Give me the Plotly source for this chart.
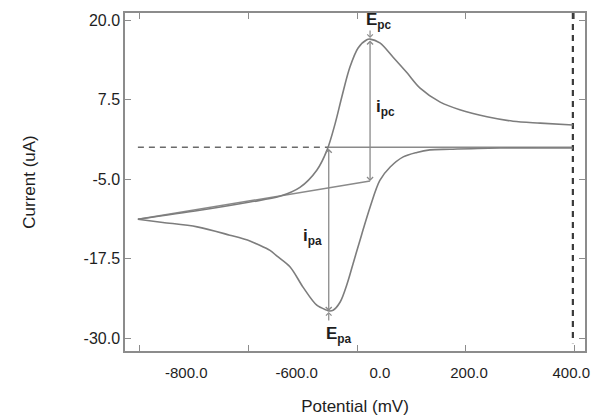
import plotly.graph_objects as go

# Cyclic voltammogram: potential (mV) vs current (uA)
# Cathodic sweep: from the +400 mV limit down to the -400 mV switching point
sweep_down_mv = [397, 337, 263, 171, 134, 110, 85, 61, 42, 24, 11, 5.5, -7, -18, -31,
                 -44, -52, -55, -74, -99, -123, -147, -160, -184, -197, -234, -294, -357, -403]
sweep_down_ua = [-0.1, -0.1, -0.1, -0.3, -0.4, -0.8, -1.5, -3.1, -5.2, -9.4, -13.0, -14.6, -18.2,
                 -21.4, -24.3, -25.6, -25.7, -25.6, -24.8, -22.0, -18.8, -17.1, -16.2, -15.2,
                 -14.7, -13.8, -12.5, -11.8, -11.3]
# Anodic return sweep: from -400 mV back up to +400 mV
sweep_up_mv = [-403, -289, -197, -142, -105, -74, -55, -40, -28, -13, 2, 18, 24, 42, 66, 92,
               116, 153, 189, 239, 287, 337, 397]
sweep_up_ua = [-11.3, -9.9, -8.6, -7.7, -6.3, -3.6, -0.4, 3.8, 7.9, 12.6, 15.6, 16.9, 17.0,
               16.4, 14.2, 11.7, 9.3, 7.1, 5.9, 4.8, 4.1, 3.8, 3.5]

# Peak positions (mV, uA)
epc = (24, 17.0)
epa = (-52, -25.7)
# Baseline under the cathodic peak (extrapolated from the switching point)
ipc_baseline_mv = [-403, 24]
ipc_baseline_ua = [-11.3, -5.3]
# Zero-current baseline used for the anodic peak
zero_ua = 0.0
scan_limit_mv = 397

x_ticks = [-400, -200, 0, 200, 400]
x_label_pos = [-314, -111, 42, 206, 394]
x_label_text = ["-800.0", "-600.0", "0.0", "200.0", "400.0"]
y_ticks = [20.0, 7.5, -5.0, -17.5, -30.0]
y_label_text = ["20.0", "7.5", "-5.0", "-17.5", "-30.0"]

x_range = [-426.7, 419.3]
y_range = [-32.0, 21.1]

curve_col = "#7d7d7d"
guide_col = "#8a8a8a"
text_col = "#1e1e1e"
font_family = "Liberation Sans, Arial, sans-serif"

fig = go.Figure()

# zero-current guide: dashed left of the anodic peak, solid to the right
fig.add_trace(go.Scatter(x=[ipc_baseline_mv[0], epa[0]], y=[zero_ua, zero_ua], mode="lines",
                         line=dict(color="#6a6a6a", width=1.5, dash="6px,5px"),
                         hoverinfo="skip", showlegend=False))
fig.add_trace(go.Scatter(x=[epa[0], scan_limit_mv], y=[zero_ua, zero_ua], mode="lines",
                         line=dict(color=guide_col, width=1.5),
                         hoverinfo="skip", showlegend=False))
# extrapolated baseline for the cathodic peak current
fig.add_trace(go.Scatter(x=ipc_baseline_mv, y=ipc_baseline_ua, mode="lines",
                         line=dict(color=guide_col, width=1.5),
                         hoverinfo="skip", showlegend=False))
# scan limit marker
fig.add_trace(go.Scatter(x=[scan_limit_mv, scan_limit_mv], y=[y_range[1], -30.8], mode="lines",
                         line=dict(color="#3a3a3a", width=2.2, dash="6px,5px"),
                         hoverinfo="skip", showlegend=False))
# voltammogram, one trace per sweep direction so the switching corner stays sharp
for xs, ys in ((sweep_down_mv, sweep_down_ua), (sweep_up_mv, sweep_up_ua)):
    fig.add_trace(go.Scatter(x=xs, y=ys, mode="lines",
                             line=dict(color=curve_col, width=1.6, shape="spline", smoothing=0.9),
                             hoverinfo="skip", showlegend=False))
# carrier trace for the label axis
fig.add_trace(go.Scatter(x=[x_range[0]], y=[y_range[0]], xaxis="x2", mode="markers",
                         marker=dict(size=1, opacity=0), hoverinfo="skip", showlegend=False))

# peak current arrows (double-headed)
arrow_common = dict(showarrow=True, arrowside="end+start", arrowhead=4, startarrowhead=4,
                    arrowsize=0.9, startarrowsize=0.9, arrowwidth=1.3, arrowcolor=guide_col,
                    axref="x", ayref="y", text="", standoff=0, startstandoff=0)
fig.add_annotation(x=epc[0], y=ipc_baseline_ua[1], ax=epc[0], ay=epc[1], **arrow_common)
fig.add_annotation(x=epa[0], y=epa[1], ax=epa[0], ay=zero_ua, **arrow_common)

# peak potential pointers
pointer = dict(showarrow=True, arrowhead=4, arrowsize=0.9, arrowwidth=1.2,
               arrowcolor=guide_col, text="", standoff=1)
fig.add_annotation(x=epc[0], y=epc[1], ax=0, ay=-10, **pointer)
fig.add_annotation(x=epa[0], y=epa[1], ax=0, ay=11, **pointer)

label_font = dict(family=font_family, size=17, color=text_col)
fig.add_annotation(x=epc[0], y=epc[1], text="<b>E<sub>pc</sub></b>", showarrow=False,
                   xanchor="left", yanchor="bottom", xshift=-6, yshift=5, font=label_font)
fig.add_annotation(x=epa[0], y=epa[1], text="<b>E<sub>pa</sub></b>", showarrow=False,
                   xanchor="left", yanchor="top", xshift=-5, yshift=-11, font=label_font)
fig.add_annotation(x=epc[0], y=(epc[1] + ipc_baseline_ua[1]) / 2 + 0.4, text="<b>i<sub>pc</sub></b>",
                   showarrow=False, xanchor="left", xshift=4, font=label_font)
fig.add_annotation(x=epa[0], y=(epa[1] + zero_ua) / 2 - 1.2, text="<b>i<sub>pa</sub></b>",
                   showarrow=False, xanchor="right", xshift=-5, font=label_font)

axis_line = dict(showline=True, linecolor="#8c8c8c", linewidth=1.5, mirror="ticks",
                 ticks="inside", ticklen=6, tickwidth=1.2, tickcolor="#8c8c8c",
                 showgrid=False, zeroline=False, automargin=False)
title_font = dict(family=font_family, size=17, color=text_col)

fig.update_layout(
    width=591, height=418,
    margin=dict(l=125, r=6, t=13, b=67),
    paper_bgcolor="white", plot_bgcolor="white",
    xaxis=dict(range=x_range, tickvals=x_ticks, showticklabels=False, **axis_line),
    xaxis2=dict(range=x_range, overlaying="x", anchor="y", side="bottom", automargin=False,
                tickvals=x_label_pos, ticktext=x_label_text, ticks="outside", ticklen=8,
                tickcolor="rgba(0,0,0,0)", showline=False,
                showgrid=False, zeroline=False,
                tickfont=dict(family=font_family, size=15, color=text_col),
                title=dict(text="Potential (mV)", standoff=20, font=title_font)),
    yaxis=dict(range=y_range, tickvals=y_ticks, ticktext=y_label_text,
               tickfont=dict(family=font_family, size=16, color=text_col),
               title=dict(text="Current (uA)", standoff=44, font=title_font),
               **axis_line),
)

fig.write_html("out.html")
